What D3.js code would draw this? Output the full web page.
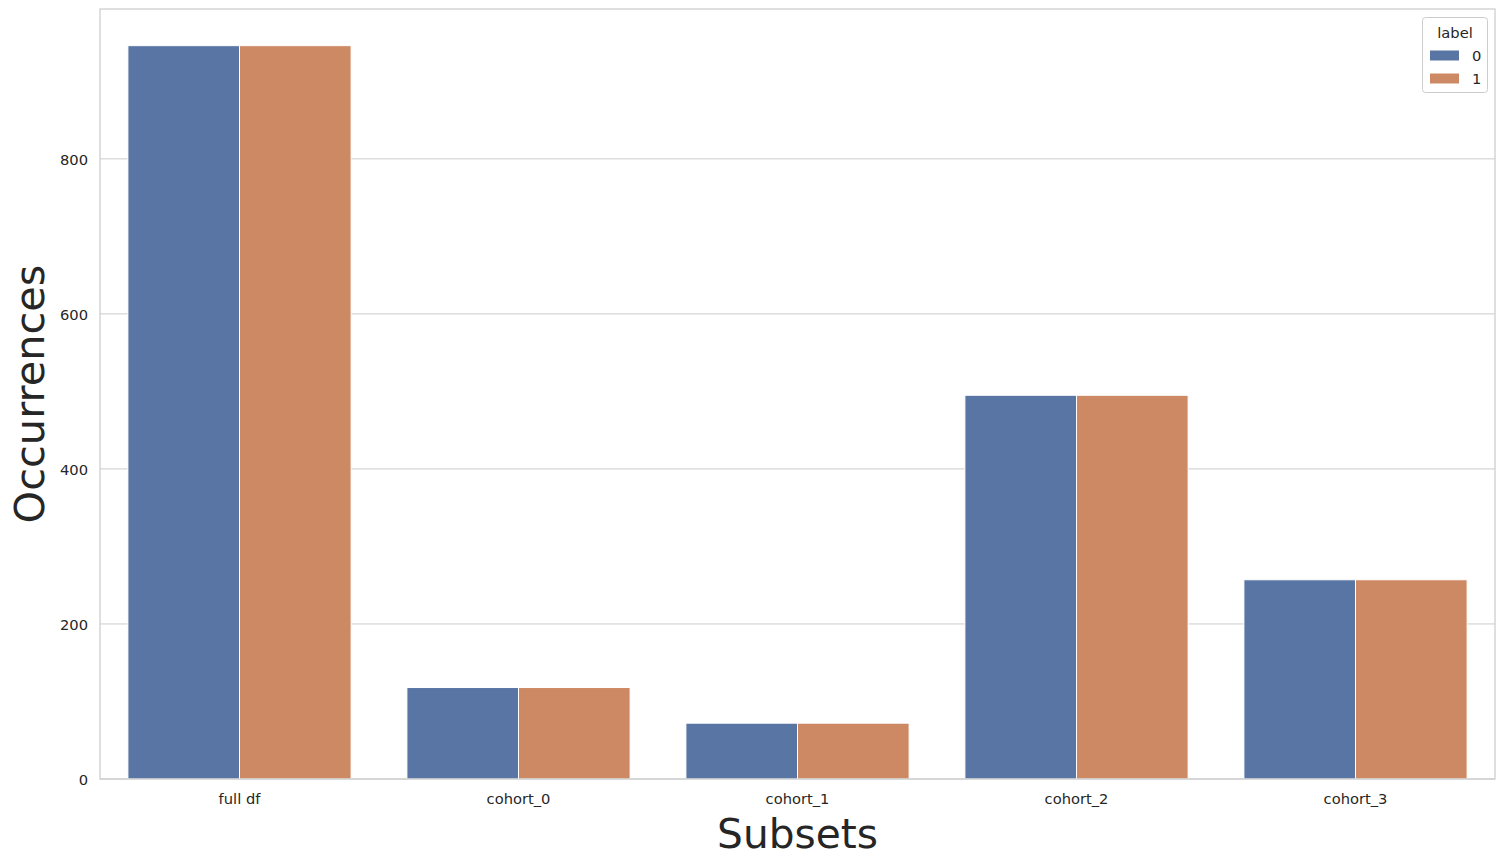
<!DOCTYPE html>
<html><head><meta charset="utf-8">
<script src="https://cdn.jsdelivr.net/npm/d3@7"></script>
<style>body{margin:0;background:#fff;} text{font-family:"DejaVu Sans",sans-serif;fill:#262626;}</style>
</head><body>
<svg id="chart" width="1504" height="866"></svg>
<script>
const categories = ["full df","cohort_0","cohort_1","cohort_2","cohort_3"];
const labels = ["0","1"];
const values0 = [946,118,72,495,257];
const values1 = [946,118,72,495,257];
const yTicks = [0,200,400,600,800];
const colors = ["#5975a4","#cc8963"];

const svg = d3.select("#chart");
const m = {left:100, right:1495, top:9, bottom:779};
const x = d3.scaleBand().domain(categories).range([m.left,m.right]).paddingInner(0).paddingOuter(0);
const yMax = d3.max(values0.concat(values1))*1.05;
const y = d3.scaleLinear().domain([0,yMax]).range([m.bottom,m.top]);
const hx = d3.scaleBand().domain(labels).range([0,x.bandwidth()*0.8]);

// grid
svg.append("g").selectAll("line").data(yTicks).join("line")
  .attr("x1",m.left).attr("x2",m.right).attr("y1",d=>y(d)).attr("y2",d=>y(d))
  .attr("stroke","#cccccc").attr("stroke-width",1);

// bars
const series = [values0, values1];
series.forEach((vals,si)=>{
  svg.append("g").selectAll("rect").data(categories).join("rect")
    .attr("x",(c)=>x(c)+x.bandwidth()*0.1+hx(labels[si]))
    .attr("width",hx.bandwidth())
    .attr("y",(c,i)=>y(vals[i]))
    .attr("height",(c,i)=>y(0)-y(vals[i]))
    .attr("fill",colors[si]).attr("stroke","#ffffff").attr("stroke-width",1);
});

// spines
svg.append("rect").attr("x",m.left).attr("y",m.top).attr("width",m.right-m.left).attr("height",m.bottom-m.top)
  .attr("fill","none").attr("stroke","#cccccc").attr("stroke-width",1.25);

// axes
const yAxis = d3.axisLeft(y).tickValues(yTicks).tickSize(0).tickPadding(12);
const gy = svg.append("g").attr("transform",`translate(${m.left},1)`).call(yAxis);
gy.select(".domain").remove();
gy.selectAll("text").style("font-size","14.7px").attr("fill","#262626").style("font-family","DejaVu Sans");

const xAxis = d3.axisBottom(x).tickSize(0).tickPadding(15);
const gx = svg.append("g").attr("transform",`translate(0,${m.bottom})`).call(xAxis);
gx.select(".domain").remove();
gx.selectAll("text").style("font-size","14.7px").attr("fill","#262626").style("font-family","DejaVu Sans");

// axis labels
svg.append("text").attr("x",(m.left+m.right)/2).attr("y",848).attr("text-anchor","middle")
  .style("font-size","40.7px").text("Subsets");
svg.append("text").attr("transform",`translate(44,${(m.top+m.bottom)/2}) rotate(-90)`).attr("text-anchor","middle")
  .style("font-size","41.5px").text("Occurrences");

// legend
const lg = svg.append("g");
lg.append("rect").attr("x",1422.5).attr("y",17.5).attr("width",65).attr("height",75).attr("rx",3)
  .attr("fill","#ffffff").attr("fill-opacity",0.8).attr("stroke","#cccccc").attr("stroke-width",1);
lg.append("text").attr("x",1455).attr("y",38).attr("text-anchor","middle").style("font-size","14.7px").text("label");
labels.forEach((l,i)=>{
  lg.append("rect").attr("x",1430).attr("y",50.5+i*23).attr("width",29).attr("height",10).attr("fill",colors[i]);
  lg.append("text").attr("x",1472).attr("y",61+i*23).style("font-size","14.7px").text(l);
});
</script>
</body></html>
